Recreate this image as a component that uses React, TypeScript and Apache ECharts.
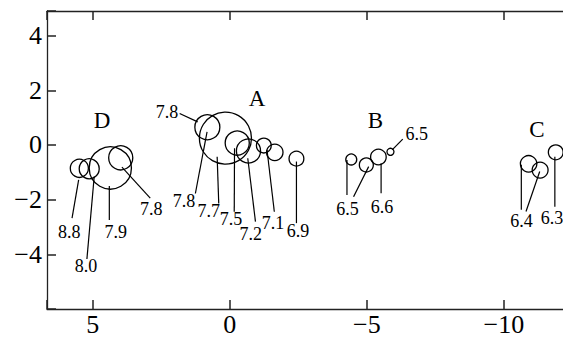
import { useEffect, useRef } from "react";
import * as echarts from "echarts";

// Bubble centres and radii, in axis units
const bubbleX = [5.49, 5.13, 4.36, 3.98, 0.82, 0.16, -0.27, -0.68, -1.24, -1.64, -2.43, -4.43, -4.98, -5.42, -5.86, -10.9, -11.32, -11.89];
const bubbleY = [-0.855, -0.87, -0.84, -0.47, 0.65, 0.25, 0.07, -0.22, -0.02, -0.27, -0.5, -0.53, -0.73, -0.44, -0.25, -0.69, -0.92, -0.27];
const bubbleR = [0.33, 0.365, 0.77, 0.44, 0.456, 0.95, 0.44, 0.44, 0.27, 0.3, 0.27, 0.2, 0.255, 0.285, 0.128, 0.3, 0.29, 0.27];

// Value labels and the bubbles each one points at
const labelText = ["8.8", "8.0", "7.9", "7.8", "7.8", "7.8", "7.7", "7.5", "7.2", "7.1", "6.9", "6.5", "6.6", "6.5", "6.4", "6.3"];
const labelTargets = [[0], [1], [2], [3], [4], [4], [5], [6], [7], [8], [10], [11, 12], [13], [14], [15, 16], [17]];

// Cluster names and where they sit
const groupNames = ["D", "A", "B", "C"];
const groupX = [4.66, -0.99, -5.31, -11.2];
const groupY = [0.91, 1.69, 0.91, 0.55];

// Axis tick values
const xTicks = [5, 0, -5, -10];
const yTicks = [-4, -2, 0, 2, 4];

// Label placement (pixels): text centre relative to the first target bubble
const labelOffset: number[][] = [
  [-10.2, 64], [-3.2, 96.8], [5.5, 64.5], [30.5, 50.8],
  [-40.3, -15], [-23.3, 73.8], [-16.7, 72.8], [-6.2, 76.2], [2.3, 83.5], [9.2, 77], [1.5, 72],
  [-3.7, 50], [3.7, 50.5], [26.3, -18.2],
  [-7.1, 57], [-3.8, 65.2],
];
// Leader lines per target: [start dx, start dy] from the text centre, [end dx, end dy] from the bubble centre
const leaderLines: number[][][] = [
  [[2.9, -14.2, -0.7, 11.5]],
  [[0.9, -6.5, 5, 7.7]],
  [[-6.5, -12.5, -1, 18]],
  [[-1, -10.5, 1.2, 9.3]],
  [[12.6, 1.3, -9.7, -5.3]],
  [[11.3, -7.5, -0.3, 4.7]],
  [[10, -7.5, -8.3, 18.7]],
  [[3.2, -7.5, -2.7, 5.3]],
  [[4.7, -12.8, -0.7, 7.3]],
  [[1.3, -10.8, 3.2, 4.5]],
  [[-1.5, -7.5, 0, 2.9]],
  [[-0.6, -14.5, -4.3, 0.5], [6, -12.8, 2.3, 1.7]],
  [[-1, -14.2, 2.7, 6.3]],
  [[-14, 5.5, 1.7, -2]],
  [[-0.2, -11, -7.3, 1], [4.5, -9.3, -0.4, 1.4]],
  [[2.9, -10.8, -0.9, 4.4]],
];

const FONT = "Liberation Serif";
const AXIS_COLOR = "#222";

const fmt = (v: number) => (v < 0 ? "\u2212" + Math.abs(v) : String(v));

export default function App() {
  const ref = useRef<HTMLDivElement>(null);

  useEffect(() => {
    if (!ref.current) return;
    const chart = echarts.init(ref.current, undefined, { renderer: "svg" });

    const lineStyle = { color: AXIS_COLOR, width: 1.3 };
    const tickStyle = { show: true, inside: true, length: 9, lineStyle: { color: AXIS_COLOR, width: 1.5 } };

    const xAxisBase = {
      type: "value" as const,
      inverse: true,
      min: -15,
      max: 6.67,
      interval: 5,
      splitLine: { show: false },
      axisLine: { show: true, onZero: false, lineStyle },
      axisTick: tickStyle,
    };

    chart.setOption({
      animation: false,
      grid: { left: 47, top: 11, width: 594, height: 300 },
      xAxis: [
        {
          ...xAxisBase,
          position: "bottom",
          axisLabel: {
            show: true,
            margin: 2,
            color: "#000",
            fontFamily: FONT,
            fontSize: 26,
            formatter: (v: number) => (xTicks.includes(v) ? fmt(v) : ""),
          },
        },
        { ...xAxisBase, position: "top", axisLabel: { show: false } },
      ],
      yAxis: {
        type: "value",
        min: -6,
        max: 4.9,
        interval: 2,
        splitLine: { show: false },
        axisLine: { show: true, onZero: false, lineStyle },
        axisTick: tickStyle,
        axisLabel: {
          show: true,
          margin: 5,
          color: "#000",
          fontFamily: FONT,
          fontSize: 26,
          formatter: (v: number) => (yTicks.includes(v) ? fmt(v) : ""),
        },
      },
      series: [
        {
          type: "custom",
          name: "bubbles",
          data: bubbleX.map((x, i) => [x, bubbleY[i]]),
          renderItem: (params: any, api: any) => {
            const i = params.dataIndex;
            const c = api.coord([bubbleX[i], bubbleY[i]]);
            const r = Math.abs(api.size([bubbleR[i], 0])[0]);
            return {
              type: "circle",
              shape: { cx: c[0], cy: c[1], r },
              style: { fill: "none", stroke: "#000", lineWidth: 1.3 },
            };
          },
        },
        {
          type: "custom",
          name: "labels",
          data: labelTargets.map((t) => [bubbleX[t[0]], bubbleY[t[0]]]),
          renderItem: (params: any, api: any) => {
            const k = params.dataIndex;
            const targets = labelTargets[k];
            const c0 = api.coord([bubbleX[targets[0]], bubbleY[targets[0]]]);
            const tx = c0[0] + labelOffset[k][0];
            const ty = c0[1] + labelOffset[k][1];
            const children: any[] = [
              {
                type: "text",
                x: tx,
                y: ty,
                style: {
                  text: labelText[k],
                  fontFamily: FONT,
                  fontSize: 18,
                  fill: "#000",
                  align: "center",
                  verticalAlign: "middle",
                },
              },
            ];
            targets.forEach((t, j) => {
              const c = api.coord([bubbleX[t], bubbleY[t]]);
              const [sx, sy, ex, ey] = leaderLines[k][j];
              children.push({
                type: "line",
                shape: { x1: tx + sx, y1: ty + sy, x2: c[0] + ex, y2: c[1] + ey },
                style: { stroke: "#000", lineWidth: 1.2 },
              });
            });
            return { type: "group", children };
          },
        },
        {
          type: "custom",
          name: "groups",
          data: groupX.map((x, i) => [x, groupY[i]]),
          renderItem: (params: any, api: any) => {
            const i = params.dataIndex;
            const c = api.coord([groupX[i], groupY[i]]);
            return {
              type: "text",
              x: c[0],
              y: c[1],
              style: {
                text: groupNames[i],
                fontFamily: FONT,
                fontSize: 23,
                fill: "#000",
                align: "center",
                verticalAlign: "middle",
              },
            };
          },
        },
      ],
    });

    return () => chart.dispose();
  }, []);

  return (
    <div
      ref={ref}
      style={{ position: "fixed", left: 0, top: 0, width: 660, height: 337, background: "#fff" }}
    />
  );
}
